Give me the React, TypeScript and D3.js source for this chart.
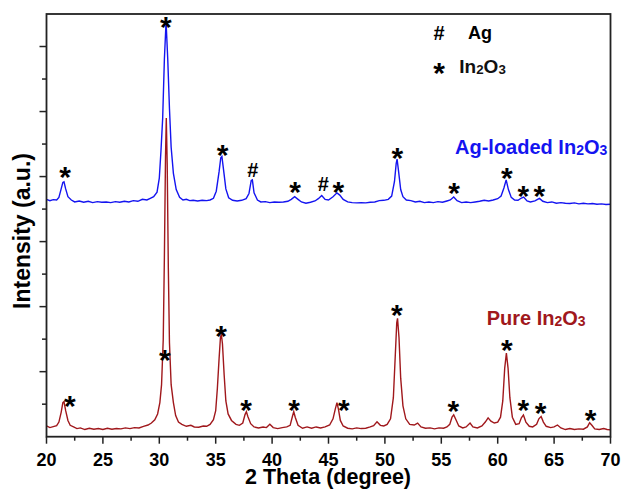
import React from 'react';
import * as d3 from 'd3';

// XRD patterns, [2theta, intensity (a.u.)]
const pureIn2O3: [number, number][] = [
  [20.0,0.33],[20.3,0.28],[20.6,0.31],[20.9,0.34],[21.1,0.45],[21.3,0.75],[21.45,1.05],[21.55,1.08],[21.7,0.8],[21.9,0.5],
  [22.1,0.35],[22.4,0.3],[22.7,0.25],[23.0,0.27],[23.4,0.22],[23.8,0.26],[24.2,0.23],[24.6,0.25],[25.0,0.22],[25.4,0.26],
  [25.8,0.23],[26.2,0.25],[26.6,0.24],[27.0,0.27],[27.4,0.25],[27.8,0.28],[28.2,0.27],[28.6,0.32],[29.0,0.36],[29.3,0.42],
  [29.6,0.52],[29.85,0.7],[30.05,1.05],[30.2,1.6],[30.35,3.0],[30.45,5.5],[30.55,8.6],[30.62,9.8],[30.7,8.4],[30.8,5.2],
  [30.9,2.9],[31.05,1.6],[31.25,1.05],[31.45,0.65],[31.7,0.45],[32.0,0.38],[32.4,0.32],[32.8,0.35],[33.1,0.3],[33.5,0.29],
  [33.9,0.33],[34.2,0.32],[34.5,0.38],[34.8,0.52],[35.0,0.8],[35.15,1.5],[35.3,2.4],[35.42,3.05],[35.5,3.15],[35.6,2.85],
  [35.75,1.9],[35.9,1.1],[36.1,0.7],[36.4,0.5],[36.8,0.38],[37.1,0.35],[37.4,0.42],[37.6,0.68],[37.72,0.77],[37.85,0.62],
  [38.1,0.4],[38.4,0.3],[38.8,0.27],[39.2,0.3],[39.5,0.28],[39.8,0.38],[40.1,0.28],[40.5,0.25],[40.9,0.28],[41.3,0.3],
  [41.6,0.35],[41.8,0.62],[41.92,0.77],[42.05,0.6],[42.3,0.35],[42.7,0.26],[43.1,0.3],[43.5,0.26],[43.9,0.3],[44.3,0.27],
  [44.7,0.3],[45.1,0.36],[45.4,0.55],[45.6,0.85],[45.75,1.05],[45.88,0.85],[46.05,0.5],[46.3,0.33],[46.7,0.26],[47.1,0.24],
  [47.5,0.27],[47.9,0.25],[48.3,0.26],[48.7,0.3],[49.0,0.34],[49.3,0.46],[49.6,0.35],[49.9,0.33],[50.2,0.38],[50.5,0.55],
  [50.75,1.2],[50.92,2.5],[51.05,3.5],[51.12,3.64],[51.25,3.05],[51.4,1.8],[51.6,0.95],[51.85,0.55],[52.2,0.38],[52.6,0.36],
  [52.9,0.42],[53.2,0.3],[53.6,0.26],[54.0,0.27],[54.4,0.24],[54.8,0.27],[55.2,0.26],[55.5,0.3],[55.75,0.38],[55.95,0.6],
  [56.1,0.67],[56.3,0.52],[56.55,0.33],[56.9,0.27],[57.2,0.3],[57.55,0.42],[57.8,0.3],[58.2,0.27],[58.6,0.33],[58.9,0.45],
  [59.15,0.58],[59.4,0.48],[59.7,0.42],[60.0,0.45],[60.25,0.6],[60.45,1.1],[60.62,2.1],[60.77,2.57],[60.92,2.1],[61.08,1.2],
  [61.3,0.6],[61.6,0.38],[61.9,0.4],[62.1,0.58],[62.28,0.67],[62.5,0.45],[62.8,0.32],[63.1,0.3],[63.45,0.38],[63.65,0.55],
  [63.85,0.62],[64.05,0.45],[64.3,0.32],[64.7,0.28],[65.0,0.3],[65.3,0.36],[65.6,0.27],[66.0,0.22],[66.4,0.25],[66.8,0.22],
  [67.2,0.24],[67.6,0.23],[67.95,0.3],[68.15,0.43],[68.35,0.35],[68.6,0.24],[69.0,0.22],[69.4,0.25],[69.7,0.22],[70.0,0.21],
];

const agLoadedIn2O3: [number, number][] = [
  [20.0,7.3],[20.3,7.26],[20.6,7.29],[20.9,7.28],[21.1,7.36],[21.3,7.62],[21.45,7.82],[21.55,7.84],[21.7,7.62],[21.9,7.38],
  [22.2,7.28],[22.5,7.22],[22.9,7.25],[23.3,7.21],[23.7,7.24],[24.1,7.2],[24.5,7.23],[24.9,7.21],[25.3,7.22],[25.7,7.2],
  [26.1,7.23],[26.5,7.21],[26.9,7.24],[27.3,7.22],[27.7,7.26],[28.1,7.24],[28.5,7.3],[28.9,7.28],[29.2,7.33],[29.5,7.38],
  [29.8,7.52],[30.0,7.95],[30.15,8.8],[30.3,9.8],[30.45,11.6],[30.6,12.76],[30.75,11.6],[30.9,10.1],[31.05,8.9],[31.25,8.1],
  [31.5,7.6],[31.8,7.36],[32.1,7.28],[32.4,7.3],[32.7,7.26],[33.0,7.27],[33.4,7.25],[33.8,7.27],[34.2,7.26],[34.5,7.28],
  [34.8,7.33],[35.05,7.55],[35.3,8.15],[35.45,8.58],[35.55,8.62],[35.7,8.2],[35.9,7.62],[36.15,7.35],[36.5,7.27],[36.9,7.25],
  [37.3,7.27],[37.7,7.32],[37.95,7.48],[38.15,7.88],[38.25,7.9],[38.4,7.5],[38.7,7.28],[39.0,7.22],[39.4,7.23],[39.8,7.2],
  [40.2,7.22],[40.6,7.21],[41.0,7.22],[41.4,7.24],[41.7,7.3],[42.0,7.38],[42.3,7.3],[42.6,7.22],[43.0,7.18],[43.4,7.21],
  [43.8,7.25],[44.1,7.32],[44.4,7.42],[44.7,7.3],[45.0,7.28],[45.4,7.38],[45.75,7.5],[46.0,7.43],[46.3,7.3],[46.7,7.22],
  [47.1,7.2],[47.5,7.19],[47.9,7.2],[48.3,7.19],[48.7,7.21],[49.1,7.22],[49.5,7.26],[49.9,7.27],[50.3,7.3],[50.6,7.4],
  [50.85,7.85],[51.0,8.4],[51.08,8.54],[51.2,8.2],[51.4,7.6],[51.6,7.38],[51.9,7.28],[52.3,7.26],[52.7,7.22],[53.1,7.24],
  [53.5,7.2],[53.9,7.22],[54.3,7.2],[54.7,7.23],[55.1,7.21],[55.5,7.25],[55.8,7.28],[56.1,7.37],[56.4,7.26],[56.8,7.2],
  [57.2,7.22],[57.6,7.2],[58.0,7.22],[58.4,7.24],[58.8,7.27],[59.2,7.25],[59.6,7.28],[60.0,7.32],[60.3,7.4],[60.55,7.65],
  [60.75,7.9],[60.95,7.6],[61.2,7.36],[61.5,7.28],[61.8,7.27],[62.1,7.34],[62.3,7.37],[62.6,7.25],[62.9,7.22],[63.3,7.25],
  [63.7,7.33],[64.0,7.24],[64.4,7.2],[64.8,7.22],[65.2,7.18],[65.6,7.2],[66.0,7.18],[66.4,7.17],[66.8,7.19],[67.2,7.16],
  [67.6,7.18],[68.0,7.16],[68.4,7.17],[68.8,7.15],[69.2,7.16],[69.6,7.14],[70.0,7.15],
];

// peak markers: [2theta, intensity, symbol]
const pureMarks: [number, number, string][] = [
  [22.08,1.16,'*'],[30.5,2.56,'*'],[35.47,3.3,'*'],[37.69,1.03,'*'],[41.94,1.03,'*'],[46.37,1.03,'*'],
  [51.05,3.95,'*'],[56.06,1.01,'*'],[60.8,2.87,'*'],[62.27,1.03,'*'],[63.81,0.94,'*'],[68.24,0.72,'*'],
];
const agMarks: [number, number, string][] = [
  [21.64,8.2,'*'],[30.59,12.82,'*'],[35.62,8.87,'*'],[38.28,8.2,'#'],[42.03,7.74,'*'],[44.54,7.76,'#'],
  [45.87,7.74,'*'],[51.1,8.8,'*'],[56.13,7.71,'*'],[60.8,8.18,'*'],[62.27,7.61,'*'],[63.69,7.61,'*'],
];

const xTicks = [20, 25, 30, 35, 40, 45, 50, 55, 60, 65, 70];

const W = 621, H = 489;
const left = 46.5, right = 610.5, top = 14, bottom = 436.7;
const FONT = '"Liberation Sans", Arial, sans-serif';
const BLUE = '#1414f0';
const RED = '#a0181c';

function Marker({ x, y, sym }: { x: number; y: number; sym: string }) {
  if (sym === '#') {
    return <text x={x} y={y + 7} textAnchor="middle" fontSize={20} fontWeight="bold" fontFamily={FONT}>#</text>;
  }
  return <text x={x} y={y + 17} textAnchor="middle" fontSize={30} fontWeight="bold" fontFamily={FONT}>*</text>;
}

function Formula({ x, y, size, color, prefix }: { x: number; y: number; size: number; color: string; prefix: string }) {
  const sub = size * 0.7;
  return (
    <text x={x} y={y} fontSize={size} fontWeight="bold" fontFamily={FONT} fill={color}>
      {prefix}In<tspan fontSize={sub} dy={1}>2</tspan><tspan dy={-1}>O</tspan><tspan fontSize={sub} dy={1}>3</tspan>
    </text>
  );
}

export default function App() {
  const x = d3.scaleLinear().domain([20, 70]).range([left, right]);
  const y = d3.scaleLinear().domain([0, 13]).range([bottom, top]);
  const line = d3.line<[number, number]>().x(d => x(d[0])).y(d => y(d[1]));

  const xMinor = d3.range(22.5, 70, 5);
  const yMajor = d3.range(2, 13, 2);
  const yMinor = d3.range(1, 13, 2);

  return (
    <svg width={W} height={H} style={{ position: 'absolute', left: 0, top: 0, background: '#fff' }}>
      {/* data */}
      <path d={line(agLoadedIn2O3) || ''} fill="none" stroke={BLUE} strokeWidth={1.4} />
      <path d={line(pureIn2O3) || ''} fill="none" stroke={RED} strokeWidth={1.4} />

      {/* frame */}
      <rect x={left} y={top} width={right - left} height={bottom - top} fill="none" stroke="#222" strokeWidth={1.8} />

      {/* x ticks */}
      {xTicks.map(t => (
        <g key={'x' + t}>
          <line x1={x(t)} x2={x(t)} y1={bottom} y2={bottom + 7} stroke="#222" strokeWidth={1.5} />
          <text x={x(t)} y={466} textAnchor="middle" fontSize={18} fontWeight="bold" fontFamily={FONT}>{t}</text>
        </g>
      ))}
      {xMinor.map(t => (
        <line key={'xm' + t} x1={x(t)} x2={x(t)} y1={bottom} y2={bottom + 4} stroke="#222" strokeWidth={1.5} />
      ))}
      {/* y ticks, unlabeled */}
      {yMajor.map(t => (
        <line key={'y' + t} x1={left - 7} x2={left} y1={y(t)} y2={y(t)} stroke="#222" strokeWidth={1.5} />
      ))}
      {yMinor.map(t => (
        <line key={'ym' + t} x1={left - 4.5} x2={left} y1={y(t)} y2={y(t)} stroke="#222" strokeWidth={1.5} />
      ))}

      {/* axis titles */}
      <text x={328} y={484} textAnchor="middle" fontSize={21.5} fontWeight="bold" fontFamily={FONT}>2 Theta (degree)</text>
      <text transform="translate(30,231) rotate(-90)" textAnchor="middle" fontSize={23} fontWeight="bold" fontFamily={FONT}>Intensity (a.u.)</text>

      {/* peak markers */}
      {agMarks.map((m, i) => <Marker key={'a' + i} x={x(m[0])} y={y(m[1])} sym={m[2]} />)}
      {pureMarks.map((m, i) => <Marker key={'p' + i} x={x(m[0])} y={y(m[1])} sym={m[2]} />)}

      {/* legend */}
      <Marker x={439} y={33} sym="#" />
      <text x={468} y={39.3} fontSize={18} fontWeight="bold" fontFamily={FONT}>Ag</text>
      <Marker x={439} y={66} sym="*" />
      <Formula x={459.3} y={72.7} size={19} color="#111" prefix="" />

      {/* series labels */}
      <Formula x={455} y={154} size={20} color={BLUE} prefix="Ag-loaded " />
      <Formula x={486.7} y={325} size={20} color={RED} prefix="Pure " />
    </svg>
  );
}
